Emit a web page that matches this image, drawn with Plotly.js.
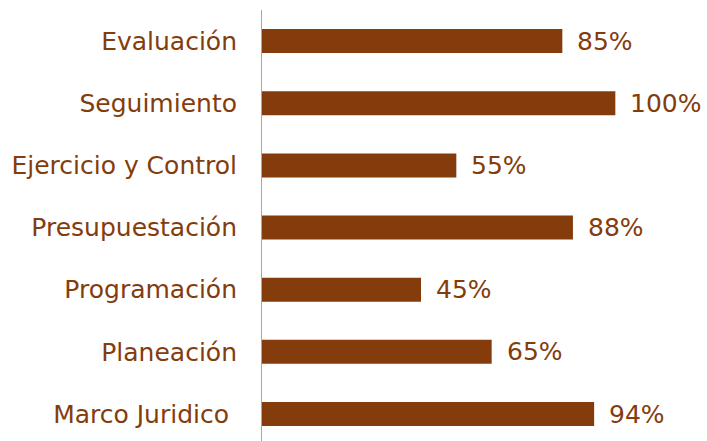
<!DOCTYPE html>
<html><head><meta charset="utf-8">
<script src="https://cdn.plot.ly/plotly-3.0.1.min.js"></script>
<style>html,body{margin:0;padding:0;background:#fff;}#chart{width:707px;height:441px;}</style>
</head><body><div id="chart"></div>
<script>
const categories = ["Marco Juridico\u00a0", "Planeación", "Programación", "Presupuestación", "Ejercicio y Control", "Seguimiento", "Evaluación"];
const values = [94, 65, 45, 88, 55, 100, 85];
const labels = values.map(v => v + "%");

const brown = "#843C0C";
const fontFam = "'DejaVu Sans', sans-serif";

const annotations = categories.map((c, i) => ({
  x: values[i], y: c, xref: "x", yref: "y", text: labels[i], showarrow: false,
  xanchor: "left", yanchor: "middle", xshift: 13,
  font: {family: fontFam, size: 25, color: brown}
}));

Plotly.newPlot("chart", [{
  type: "bar", orientation: "h", y: categories, x: values,
  width: 0.386, marker: {color: brown, line: {width: 0}},
  hoverinfo: "none"
}], {
  width: 707, height: 441,
  margin: {l: 262, r: 21, t: 10, b: 0, pad: 0},
  paper_bgcolor: "#fff", plot_bgcolor: "#fff",
  showlegend: false,
  xaxis: {range: [0, 120], visible: false, fixedrange: true},
  yaxis: {type: "category", range: [-0.434, 6.5], autorange: false,
    showline: true, linecolor: "#a6a6a6", linewidth: 1, showgrid: false, zeroline: false,
    ticks: "", ticklabelstandoff: 19,
    tickfont: {family: fontFam, size: 25, color: brown}},
  annotations: annotations
}, {staticPlot: true});
</script></body></html>
